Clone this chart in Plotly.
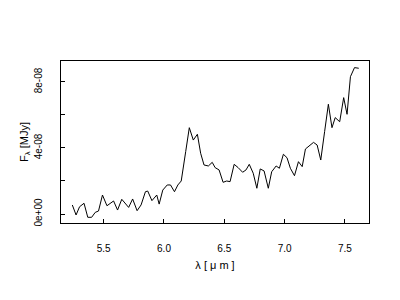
import plotly.graph_objects as go

wavelength = [5.24, 5.271, 5.30, 5.337, 5.368, 5.40, 5.43, 5.457, 5.49, 5.527, 5.582, 5.615,
              5.65, 5.707, 5.74, 5.777, 5.81, 5.846, 5.865, 5.90, 5.94, 5.96, 5.99, 6.027,
              6.054, 6.087, 6.115, 6.143, 6.18, 6.21, 6.243, 6.277, 6.304, 6.332, 6.368, 6.40,
              6.424, 6.457, 6.49, 6.52, 6.548, 6.582, 6.615, 6.652, 6.68, 6.707, 6.74, 6.77,
              6.798, 6.83, 6.865, 6.893, 6.93, 6.957, 6.99, 7.02, 7.048, 7.082, 7.115, 7.146,
              7.173, 7.207, 7.24, 7.27, 7.30, 7.332, 7.363, 7.393, 7.42, 7.457, 7.49, 7.518,
              7.546, 7.58, 7.615]
flux_e8 = [0.545, -0.06, 0.44, 0.65, -0.2, -0.2, 0.1, 0.18, 1.15, 0.5, 0.79, 0.24,
           0.89, 0.4, 0.91, 0.2, 0.55, 1.35, 1.39, 0.81, 1.15, 0.6, 1.45, 1.76,
           1.76, 1.35, 1.76, 2.0, 3.78, 5.23, 4.48, 4.83, 3.68, 2.97, 2.91, 3.13,
           2.81, 2.67, 1.92, 2.0, 1.96, 3.01, 2.81, 2.53, 2.67, 3.01, 2.47, 1.56,
           2.73, 2.61, 1.56, 2.56, 2.91, 2.77, 3.62, 3.41, 2.77, 2.32, 3.17, 2.87,
           3.94, 4.14, 4.34, 4.18, 3.27, 4.99, 6.65, 5.23, 5.84, 5.59, 7.05, 6.04,
           8.32, 8.87, 8.83]
flux = [v * 1e-8 for v in flux_e8]

x_ticks = [5.5, 6.0, 6.5, 7.0, 7.5]
x_ticklabels = ["5.5", "6.0", "6.5", "7.0", "7.5"]
y_ticks = [0, 4e-8, 8e-8]
y_ticklabels = ["0e+00", "4e-08", "8e-08"]
y_minor_ticks = [2e-8, 6e-8]

font = "Liberation Sans, Arial, sans-serif"

fig = go.Figure(go.Scatter(x=wavelength, y=flux, mode="lines",
                           line=dict(color="black", width=1), hoverinfo="skip"))

fig.update_layout(
    width=400, height=300,
    margin=dict(l=61, r=31, t=61, b=77),
    paper_bgcolor="white", plot_bgcolor="white",
    showlegend=False,
    font=dict(family=font, size=10, color="black"),
    xaxis=dict(range=[5.146, 7.70], tickvals=x_ticks, ticktext=x_ticklabels,
               ticks="inside", ticklen=4, tickcolor="black", tickwidth=1,
               showline=True, mirror=True, linecolor="black", linewidth=1,
               showgrid=False, zeroline=False, ticklabelstandoff=16,
               tickfont=dict(size=10),
               title=dict(text="λ [ μ m ]", standoff=8,
                          font=dict(family=font, size=11, color="black"))),
    yaxis=dict(range=[-0.545e-8, 9.27e-8], tickvals=y_ticks, ticktext=y_ticklabels,
               ticks="inside", ticklen=4, tickcolor="black", tickwidth=1,
               minor=dict(tickvals=y_minor_ticks, ticks="inside", ticklen=4,
                          tickcolor="black", tickwidth=1, showgrid=False),
               showline=True, mirror=True, linecolor="black", linewidth=1,
               showgrid=False, zeroline=False, tickangle=-90, ticklabelstandoff=14,
               tickfont=dict(size=10),
               title=dict(text="F<sub>λ</sub> [MJy]", standoff=2,
                          font=dict(family=font, size=11, color="black"))),
)

fig.write_html("out.html")
